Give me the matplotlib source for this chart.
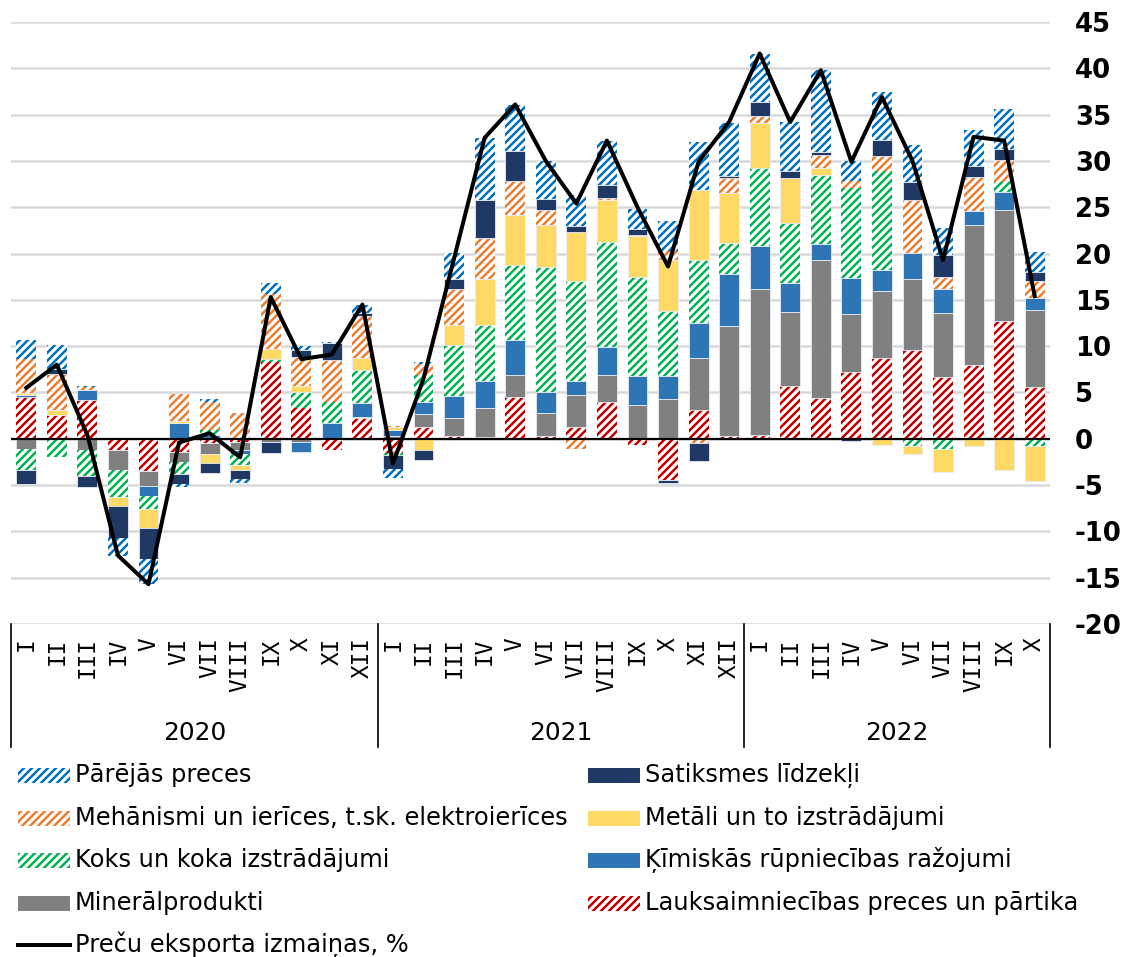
"""Goods export change by product group, 2020-2022 (stacked contributions + total line)."""
import matplotlib
matplotlib.use("Agg")
import matplotlib.pyplot as plt
import matplotlib.transforms as mtransforms
import numpy as np
from matplotlib.lines import Line2D
from matplotlib.patches import Rectangle

W, H, DPI = 1127, 957, 120

MONTHS = ["I", "II", "III", "IV", "V", "VI", "VII", "VIII", "IX", "X", "XI", "XII"]
YEARS = ["2020", "2021", "2022"]
MONTH_LABELS = MONTHS + MONTHS + MONTHS[:10]
Y_TICKS = list(range(-20, 50, 5))

# contributions, p.p. (stacked bottom -> top in this order)
lauksaimniecība = [4.5, 2.6, 4.2, -1.25, -3.5, -1.4, -0.43, -0.3, 8.3, 3.3, -1.25, 2.25,
                   -1.5, 1.25, 0.3, 0.18, 4.5, 0.3, 1.3, 3.94, -0.72, -4.4, 3.08, 0.3,
                   0.4, 5.66, 4.4, 7.17, 8.7, 9.6, 6.67, 8.0, 12.72, 5.6]
minerālprodukti = [-1.07, -0.15, -1.25, -2.07, -1.57, -1.07, -1.18, -0.96, -0.3, -0.3, 0.0, 0.15,
                   0.3, 1.47, 1.97, 3.15, 2.4, 2.44, 3.47, 2.97, 3.7, 4.3, 5.63, 11.9,
                   15.73, 8.0, 14.87, 6.27, 7.24, 7.7, 6.88, 15.05, 11.94, 8.32]
ķīmija = [0.25, 0.0, 1.1, 0.0, -1.1, 1.68, 0.4, -0.43, 0.0, -1.15, 1.7, 1.5,
          0.7, 1.25, 2.33, 2.94, 3.76, 2.3, 1.43, 3.05, 3.12, 2.5, 3.76, 5.6,
          4.7, 3.19, 1.8, 3.94, 2.26, 2.8, 2.58, 1.54, 1.97, 1.33]
koks = [-2.3, -1.8, -2.75, -3.0, -1.4, -1.36, 0.6, -1.18, 0.3, 1.8, 2.3, 3.57,
        -0.2, 2.94, 5.56, 6.0, 8.07, 13.55, 10.86, 11.3, 10.68, 7.0, 6.88, 3.3,
        8.42, 6.49, 7.46, 9.68, 10.68, -0.79, -1.07, 0.0, 1.07, -0.79]
metāli = [0.2, 0.5, 0.0, -0.9, -2.07, 0.2, -0.96, -0.46, 1.07, 0.6, 0.0, 1.3,
          0.25, -1.25, 2.15, 4.95, 5.38, 4.48, 5.27, 4.48, 4.4, 5.45, 7.56, 5.48,
          4.84, 4.8, 0.72, 0.0, -0.72, -0.9, -2.5, -0.79, -3.4, -3.76]
mehānismi = [3.7, 3.85, 0.25, 0.0, 0.0, 2.9, 3.0, 2.8, 6.0, 3.15, 4.5, 4.46,
             0.15, 1.18, 3.84, 4.44, 3.7, 1.68, -1.07, 0.3, 0.07, 1.0, -0.5, 1.58,
             0.72, 0.0, 1.4, 0.8, 1.68, 5.63, 1.29, 3.66, 2.4, 1.79]
satiksme = [-1.5, 0.55, -1.25, -3.5, -3.3, -1.07, -1.18, -0.96, -1.25, 0.7, 1.86, 0.3,
            -1.6, -1.04, 1.07, 4.16, 3.23, 1.15, 0.6, 1.33, 0.72, -0.4, -1.9, 0.2,
            1.5, 0.82, 0.3, -0.25, 1.68, 1.97, 2.4, 1.25, 1.18, 0.93]
pārējās = [2.0, 2.65, 0.2, -1.96, -2.75, -0.36, 0.25, -0.46, 1.14, 0.43, 0.1, 0.9,
           -0.9, 0.25, 2.8, 6.63, 5.02, 4.05, 3.44, 4.77, 2.15, 3.23, 5.16, 5.7,
           5.2, 5.27, 8.85, 2.1, 5.2, 4.05, 2.97, 3.84, 4.3, 2.22]

# total goods export change, %
eksports = [5.5, 8.0, 0.4, -12.6, -15.7, -0.4, 0.6, -2.0, 15.3, 8.6, 9.1, 14.5,
            -2.7, 6.5, 19.5, 32.5, 36.1, 30.0, 25.4, 32.2, 25.0, 18.6, 29.9, 34.2,
            41.6, 34.2, 39.8, 29.9, 36.9, 30.0, 19.3, 32.6, 32.2, 15.4]

# (label, values, colour, hatched)
SERIES = [
    ("Lauksaimniecības preces un pārtika", lauksaimniecība, "#C00000", True),
    ("Minerālprodukti", minerālprodukti, "#808080", False),
    ("Ķīmiskās rūpniecības ražojumi", ķīmija, "#2E75B6", False),
    ("Koks un koka izstrādājumi", koks, "#00B050", True),
    ("Metāli un to izstrādājumi", metāli, "#FFD966", False),
    ("Mehānismi un ierīces, t.sk. elektroierīces", mehānismi, "#ED7D31", True),
    ("Satiksmes līdzekļi", satiksme, "#203864", False),
    ("Pārējās preces", pārējās, "#0070C0", True),
]
LINE_LABEL = "Preču eksporta izmaiņas, %"
HATCH = "/////"

plt.rcParams["font.family"] = "DejaVu Sans"
plt.rcParams["hatch.linewidth"] = 1.5

fig = plt.figure(figsize=(W / DPI, H / DPI), dpi=DPI)
ax = fig.add_axes([11 / W, 1 - 624 / H, (1050 - 11) / W, (624 - 22) / H])

n = len(MONTH_LABELS)
x = np.arange(n)
pos_base = np.zeros(n)
neg_base = np.zeros(n)
for label, vals, color, hatched in SERIES:
    v = np.asarray(vals, dtype=float)
    bottom = np.where(v >= 0, pos_base, neg_base)
    m = v != 0
    if hatched:
        ax.bar(x[m], v[m], bottom=bottom[m], width=0.65, facecolor="white",
               edgecolor=color, hatch=HATCH, linewidth=0, zorder=2)
    else:
        ax.bar(x[m], v[m], bottom=bottom[m], width=0.65, facecolor=color,
               edgecolor="#E8ECF4", linewidth=0.5, zorder=2)
    pos_base += np.where(v > 0, v, 0)
    neg_base += np.where(v < 0, v, 0)

ax.axhline(0, color="black", lw=1.3, zorder=3)
ax.plot(x, eksports, color="black", lw=2.4, zorder=4)

ax.set_xlim(-0.5, n - 0.5)
ax.set_ylim(-20, 45)
ax.set_yticks(Y_TICKS)
ax.set_yticklabels([str(t) for t in Y_TICKS], fontweight="bold")
ax.yaxis.tick_right()
ax.tick_params(axis="y", length=0, pad=15, labelsize=15.6)
ax.grid(axis="y", color="#D9D9D9", lw=1.5)
ax.set_axisbelow(True)
for s in ax.spines.values():
    s.set_visible(False)

ax.set_xticks(x)
ax.set_xticklabels(MONTH_LABELS, rotation=90, fontfamily="DejaVu Sans Mono",
                   fontsize=13.6)
ax.tick_params(axis="x", length=0, pad=8)

trans = mtransforms.blended_transform_factory(ax.transData, ax.transAxes)
for xs in [-0.5, 11.5, 23.5, n - 0.5]:
    ax.plot([xs, xs], [0, -0.204], transform=trans, color="black", lw=1.0,
            clip_on=False)
starts = [0, 12, 24]
ends = [12, 24, n]
for yr, a, b in zip(YEARS, starts, ends):
    ax.text((a + b - 1) / 2, -0.181, yr, transform=trans, ha="center",
            va="center", fontsize=14.9)

# legend drawn by hand, two columns, rows as in the original
by_label = {s[0]: s for s in SERIES}
col1 = ["Pārējās preces", "Mehānismi un ierīces, t.sk. elektroierīces",
        "Koks un koka izstrādājumi", "Minerālprodukti", None]
col2 = ["Satiksmes līdzekļi", "Metāli un to izstrādājumi",
        "Ķīmiskās rūpniecības ražojumi", "Lauksaimniecības preces un pārtika"]
row_y = [775, 818, 860, 903, 945]


def legend_entry(px, py, label):
    if label is None:
        fig.add_artist(Line2D([px / W, (px + 52) / W], [1 - py / H, 1 - py / H],
                              transform=fig.transFigure, color="black", lw=2.4))
        text = LINE_LABEL
    else:
        _, _, color, hatched = by_label[label]
        kw = dict(facecolor="white", edgecolor=color, hatch=HATCH, lw=0) if hatched \
            else dict(facecolor=color, lw=0)
        fig.add_artist(Rectangle((px / W, 1 - (py + 7.5) / H), 52 / W, 15 / H,
                                 transform=fig.transFigure, **kw))
        text = label
    fig.text((px + 57) / W, 1 - py / H, text, ha="left", va="center",
             fontsize=14.5)


for ry, lab in zip(row_y, col1):
    legend_entry(18, ry, lab)
for ry, lab in zip(row_y, col2):
    legend_entry(588, ry, lab)

fig.savefig("out.png", dpi=DPI)
